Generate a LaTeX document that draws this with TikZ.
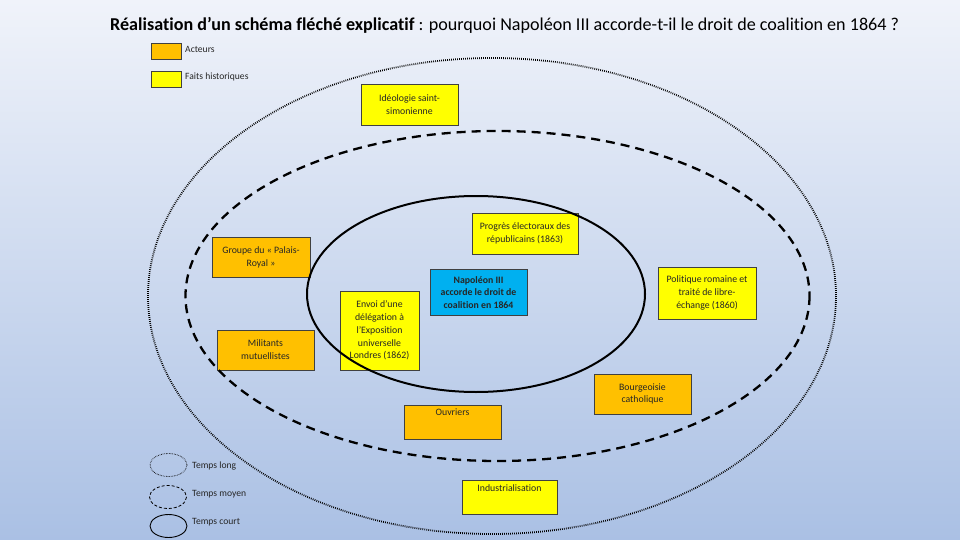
\documentclass[tikz,border=0pt]{standalone}
\usepackage{fontspec}
\setmainfont{Carlito}[Ligatures=NoCommon]
\usetikzlibrary{positioning}
\definecolor{acteur}{HTML}{FFC000}
\definecolor{fait}{HTML}{FFFF00}
\definecolor{centre}{HTML}{00B0F0}
\definecolor{fondhaut}{HTML}{F0F3FA}
\definecolor{fondbas}{HTML}{AAC0E4}
\tikzset{
	basebox/.style={draw=black!75, line width=0.8pt, align=center, inner sep=2pt, text=black!85, font=\fontsize{9.8}{12.8}\selectfont, minimum width=97pt, minimum height=40pt},
	acteurbox/.style={basebox, fill=acteur},
	faitbox/.style={basebox, fill=fait},
	centrebox/.style={basebox, fill=centre, font=\fontsize{9.8}{12.8}\selectfont\bfseries},
	topbox/.style={anchor=north, minimum height=0pt, inner sep=4pt, text depth=#1},
	legendbox/.style={draw=black!75, line width=0.8pt, minimum width=30pt, minimum height=16pt, inner sep=0pt},
	legendtext/.style={anchor=west, inner sep=0pt, text=black!85, font=\fontsize{9.6}{11}\selectfont},
	longue/.style={line width=1.8pt, dash pattern=on 0.8pt off 1.2pt},
	moyenne/.style={line width=2.3pt, dash pattern=on 9pt off 6pt},
	courte/.style={line width=2pt},
}

\begin{document}
\begin{tikzpicture}[x=1pt, y=-1pt]
	% fond
	\shade[top color=fondhaut, bottom color=fondbas] (0,0) rectangle (960,540);
	\useasboundingbox (0,0) rectangle (960,540);

	\node[anchor=west, inner sep=0pt, font=\fontsize{18.1}{19}\selectfont] (titre) at (110,25) {\textbf{Réalisation d’un schéma fléché explicatif} : pourquoi Napoléon III accorde-t-il le droit de coalition en 1864 ?};

	% legende
	\node[legendbox, fill=acteur] (legacteur) at (166.5,51) {};
	\node[legendtext] (txtacteur) at (185,49) {Acteurs};
	\node[legendbox, fill=fait] (legfait) at (166.5,79) {};
	\node[legendtext] (txtfait) at (185,77) {Faits historiques};

	% cadres
	\node[faitbox, minimum height=41pt] (ideologie) at (409.5,104.5) {Idéologie saint-\\simonienne};
	\node[faitbox, minimum width=106pt, minimum height=41pt] (progres) at (525,233.5) {Progrès électoraux des\\républicains (1863)};
	\node[acteurbox, minimum width=98pt] (palais) at (261,257) {Groupe du « Palais-\\Royal »};
	\node[centrebox, minimum height=46pt] (napoleon) at (478.5,292.5) {Napoléon III\\accorde le droit de\\coalition en 1864};
	\node[faitbox, minimum width=98pt, minimum height=52pt] (politique) at (707,293) {Politique romaine et\\traité de libre-\\échange (1860)};
	\node[faitbox, minimum width=79pt, minimum height=79pt] (envoi) at (379.5,330.5) {Envoi d’une\\délégation à\\l’Exposition\\universelle\\Londres (1862)};
	\node[acteurbox] (militants) at (265.5,350) {Militants\\mutuellistes};
	\node[acteurbox] (bourgeoisie) at (642.5,394) {Bourgeoisie\\catholique};
	\node[acteurbox, topbox=20pt] (ouvriers) at (452.5,404.5) {Ouvriers};
	\node[faitbox, topbox=19pt, minimum width=95pt] (industrie) at (509.5,480) {Industrialisation};

	% temps
	\draw[longue] (492,296) ellipse [x radius=344, y radius=238];
	\draw[moyenne] (497.5,296) ellipse [x radius=312, y radius=165];
	\draw[courte] (476,294) ellipse [x radius=169, y radius=98];

	% legende des temps
	\draw[line width=0.8pt, dash pattern=on 0.6pt off 1pt] (168.5,465) ellipse [x radius=18.5, y radius=11.5];
	\node[legendtext] (txtlong) at (192,466) {Temps long};
	\draw[line width=0.8pt, dash pattern=on 3pt off 2pt] (168,497) ellipse [x radius=18.5, y radius=11.5];
	\node[legendtext] (txtmoyen) at (192,494) {Temps moyen};
	\draw[line width=0.9pt] (168.5,526) ellipse [x radius=18.5, y radius=11.5];
	\node[legendtext] (txtcourt) at (192,522) {Temps court};
\end{tikzpicture}
\end{document}
